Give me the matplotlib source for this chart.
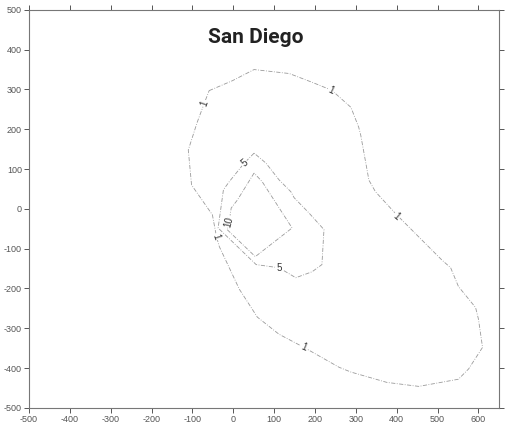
import matplotlib
matplotlib.use("Agg")
import matplotlib.pyplot as plt

# contour rings (x, y) for each isoline level
ring_1_x = [-59, -2, 51, 137, 193, 241, 288, 307, 312, 332, 348, 400, 510, 532, 551, 593, 600, 610,
            576, 551, 454, 376, 288, 259, 173, 112, 59, 15, -34, -41, -51, -102, -110, -88, -71, -59]
ring_1_y = [297, 322, 350, 340, 318, 298, 255, 205, 185, 72, 43, -15, -128, -148, -195, -248, -277, -348,
            -402, -428, -446, -436, -410, -398, -348, -315, -272, -202, -95, -70, -15, 60, 148, 218, 265, 297]

ring_5_x = [51, 27, -10, -24, -37, 56, 112, 153, 193, 217, 222, 185, 149, 141, 112, 80, 51]
ring_5_y = [140, 115, 68, 48, -48, -140, -148, -173, -158, -140, -52, -10, 28, 43, 73, 115, 140]

ring_10_x = [51, 10, -5, -10, -15, 54, 144, 71, 51]
ring_10_y = [90, 22, 2, -32, -52, -120, -48, 68, 90]

# inline level labels: text, x, y, rotation
label_text = ["1", "1", "1", "1", "1", "5", "5", "10"]
label_x = [-71, 240, -41, 400, 172, 27, 112, -10]
label_y = [265, 298, -70, -18, -348, 115, -148, -32]
label_rot = [70, -25, -72, -40, -22, 40, 0, 75]

x_ticks = [-500, -400, -300, -200, -100, 0, 100, 200, 300, 400, 500, 600]
y_ticks = [-500, -400, -300, -200, -100, 0, 100, 200, 300, 400, 500]

plt.rcParams['font.family'] = ['Liberation Sans', 'DejaVu Sans']
plt.rcParams['axes.unicode_minus'] = False

fig = plt.figure(figsize=(5.07, 4.28), dpi=100)
ax = fig.add_axes([0.057, 0.047, 0.927, 0.930])

dash = (0, (5, 1.8, 1, 1.8))
for xs, ys in [(ring_1_x, ring_1_y), (ring_5_x, ring_5_y), (ring_10_x, ring_10_y)]:
    ax.plot(xs, ys, color='#9a9a9a', lw=0.6, linestyle=dash)

for t, x, y, r in zip(label_text, label_x, label_y, label_rot):
    ax.text(x, y, t, rotation=r, ha='center', va='center', fontsize=7, color='#333333',
            bbox=dict(facecolor='white', edgecolor='none', pad=0.6))

ax.text(54, 430, "San Diego", ha='center', va='center', fontsize=15,
        fontweight='bold', family=['Roboto', 'DejaVu Sans'], color='#222222')

ax.set_xlim(-500, 650)
ax.set_ylim(-500, 500)
ax.set_xticks(x_ticks)
ax.set_yticks(y_ticks)
ax.tick_params(direction='out', length=3.5, width=0.7, labelsize=6.5, colors='#555555',
               top=True, right=True, pad=1.5)
for s in ax.spines.values():
    s.set_color('#777777')
    s.set_linewidth(0.8)

fig.savefig("out.png", dpi=100)
